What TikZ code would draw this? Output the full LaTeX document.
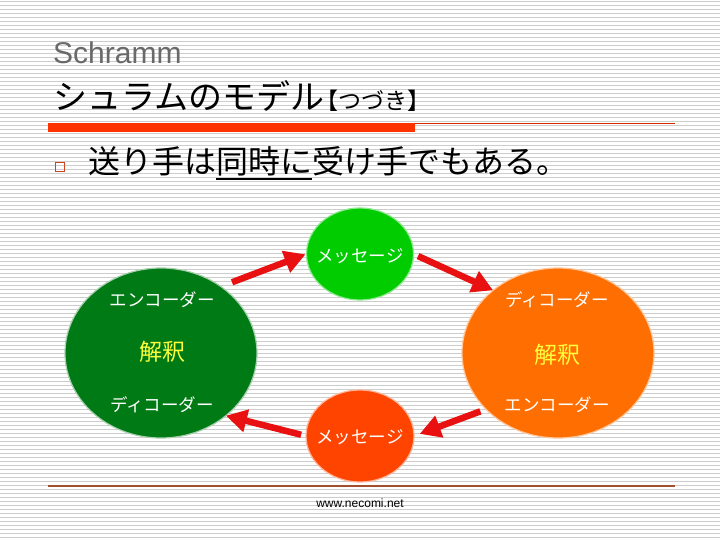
\documentclass[tikz,border=0pt]{standalone}
\usepackage{fontspec}
\setmainfont{Liberation Sans}
\newfontfamily\jp{Noto Sans CJK JP}
\usetikzlibrary{shapes.geometric,arrows.meta}

\definecolor{stripegray}{RGB}{205,205,205}
\definecolor{barred}{RGB}{255,51,0}
\definecolor{rulebrown}{RGB}{160,80,45}
\definecolor{msggreen}{RGB}{0,204,0}
\definecolor{darkgreen}{RGB}{0,122,20}
\definecolor{orangefill}{RGB}{255,110,0}
\definecolor{msgred}{RGB}{255,68,0}
\definecolor{arrowred}{RGB}{232,16,16}
\definecolor{kaiyellow}{RGB}{255,255,60}

% subrayado grueso
\newcommand\ulword[1]{\leavevmode\vtop{\hbox{#1}\kern1.5pt\hrule height 2pt}}

\tikzset{
  stripe/.style={draw=stripegray,line width=1pt},
  bubble/.style={ellipse,inner sep=0pt,outer sep=0pt,line width=1.2pt},
  lbl/.style={text=white,font=\jp\fontsize{17.5}{18}\selectfont},
  kai/.style={text=kaiyellow,font=\jp\fontsize{23}{24}\selectfont},
  redarrow/.style={draw=arrowred,line width=6.5pt,-{Triangle[length=21pt,width=22pt]}}
}

\begin{document}
\begin{tikzpicture}[x=1pt,y=-1pt]
\useasboundingbox (0,0) rectangle (720,540);
\fill[white] (0,0) rectangle (720,540);

% Fondo rayado
\foreach \i in {0,...,134} {
    \pgfmathsetmacro{\yy}{4*\i+1.5}
    \draw[stripe] (0,\yy) -- (720,\yy);
}

% Titulo
\node[anchor=base west,inner sep=0pt,text={rgb,255:red,105;green,105;blue,105},
  font=\fontsize{30}{30}\selectfont] (sub) at (53,64) {Schramm};
\node[anchor=base west,inner sep=0pt,font=\jp\fontsize{34}{34}\selectfont] (title) at (53,110)
  {シュラムのモデル{\fontsize{23}{23}\selectfont\kern-9pt【つづき】}};
\fill[barred] (48,123) rectangle (415,132);
\draw[barred!85!black,line width=1pt] (415,123.5) -- (675,123.5);

% Viñeta
\draw[draw={rgb,255:red,204;green,68;blue,34},line width=1.6pt] (55.5,162.5) rectangle (64.5,171.5);
\node[anchor=base west,inner sep=0pt,font=\jp\fontsize{32}{32}\selectfont] (point) at (88,174)
  {送り手は\ulword{同時に}受け手でもある。};

% Circulos
\node[bubble,fill=msggreen,draw=msggreen!45!white,minimum width=107pt,minimum height=92pt] (msgtop) at (360,254) {};
\node[bubble,fill=msgred,draw=msgred!40!white,minimum width=108pt,minimum height=92pt] (msgbot) at (360,436) {};
\node[bubble,fill=darkgreen,draw=darkgreen!35!white,minimum width=192pt,minimum height=170pt] (lcirc) at (161,353) {};
\node[bubble,fill=orangefill,draw=orangefill!40!white,minimum width=192pt,minimum height=170pt] (rcirc) at (558,353) {};

% Textos
\node[lbl] (msgtoptxt) at (360,256) {メッセージ};
\node[lbl] (msgbottxt) at (360,437) {メッセージ};
\node[lbl] (lenc) at (162,300) {エンコーダー};
\node[kai] (lkai) at (162,352) {解釈};
\node[lbl] (ldec) at (162,405) {ディコーダー};
\node[lbl] (rdec) at (557,300) {ディコーダー};
\node[kai] (rkai) at (557,355) {解釈};
\node[lbl] (renc) at (557,405) {エンコーダー};

% Flechas
\draw[redarrow,shorten <=12pt,shorten >=1pt] (lcirc.48) -- (msgtop.west);
\draw[redarrow,shorten <=5pt] (msgtop.east) -- (rcirc.136);
\draw[redarrow,shorten <=6pt,shorten >=6pt] (rcirc.218) -- (msgbot.east);
\draw[redarrow,shorten <=5pt] (msgbot.west) -- (lcirc.316);

% Pie
\draw[rulebrown,line width=1.5pt] (48,486) -- (675,486);
\node[font=\fontsize{12}{12}\selectfont] (foot) at (360,503) {www.necomi.net};
\end{tikzpicture}
\end{document}
